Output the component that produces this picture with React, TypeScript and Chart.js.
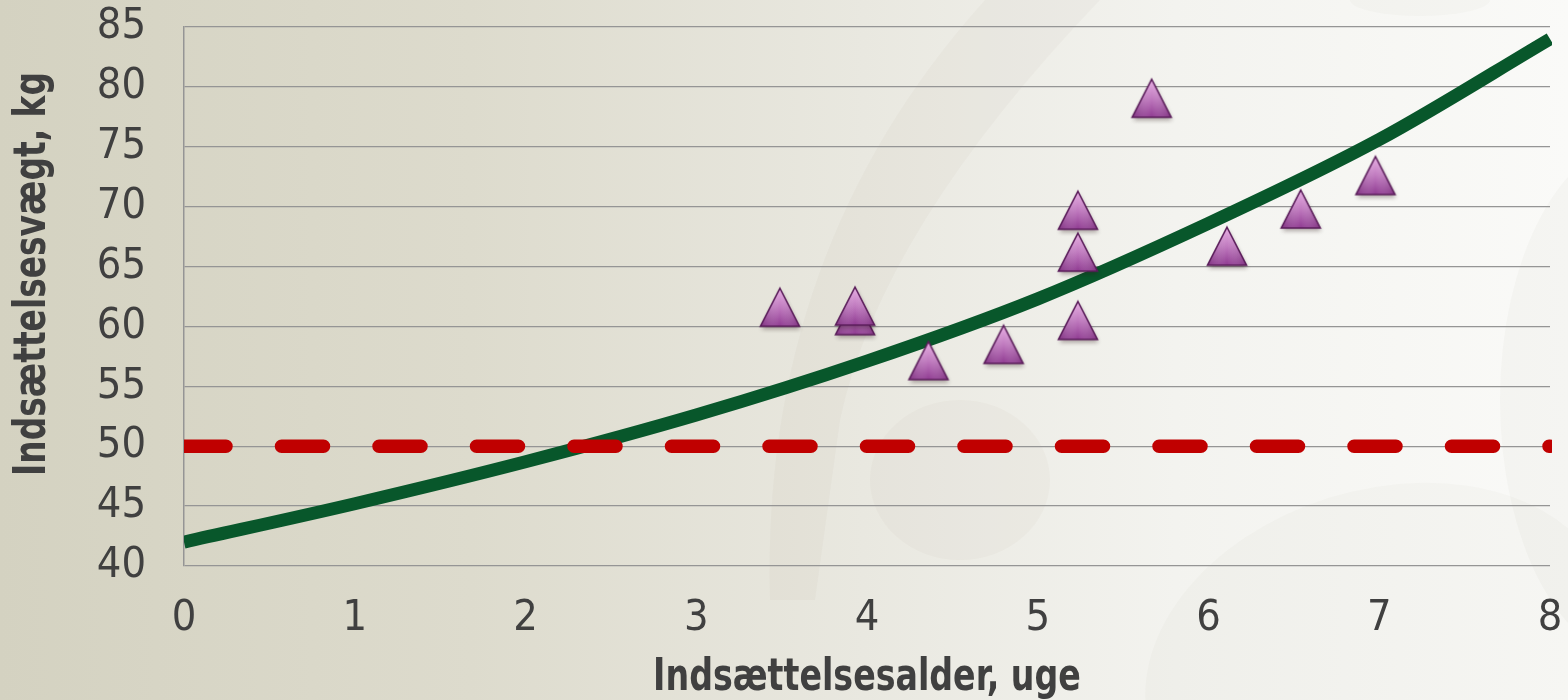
import React, { useEffect, useRef } from "react";
import { Chart, registerables } from "chart.js";

Chart.register(...registerables);

// ---- data ----
const curveAges = [0, 1, 2, 3, 4, 5, 6, 7, 8];
const curveWeights = [42, 45.2, 48.7, 52.6, 57.1, 62.3, 68.6, 75.6, 84];

const limitAges = [0, 8];
const limitWeights = [50, 50];

const obsAges = [3.49, 3.93, 3.93, 4.36, 4.8, 5.235, 5.235, 5.235, 5.667, 6.108, 6.54, 6.978];
const obsWeights = [61.6, 60.9, 61.7, 57.15, 58.5, 60.5, 69.7, 66.2, 79.05, 66.7, 69.8, 72.6];

const xTickValues = [0, 1, 2, 3, 4, 5, 6, 7, 8];
const yTickValues = [40, 45, 50, 55, 60, 65, 70, 75, 80, 85];

const xTitle = "Indsættelsesalder, uge";
const yTitle = "Indsættelsesvægt, kg";

const FONT = '"Liberation Sans Narrow", "Arial Narrow", "DejaVu Sans Condensed", sans-serif';
const TEXT = "#404040";
const GRID = "#959595";

function makeTriangle(): HTMLCanvasElement {
  const c = document.createElement("canvas");
  c.width = 60;
  c.height = 60;
  const g = c.getContext("2d")!;
  const cx = 30, cy = 30, w = 39, h = 38;
  const top = cy - h / 2, bot = cy + h / 2, l = cx - w / 2, r = cx + w / 2;
  const path = () => {
    g.beginPath();
    g.moveTo(cx, top);
    g.lineTo(r, bot);
    g.lineTo(l, bot);
    g.closePath();
  };
  g.save();
  g.shadowColor = "rgba(40,20,20,0.35)";
  g.shadowBlur = 4;
  g.shadowOffsetX = 1;
  g.shadowOffsetY = 3;
  path();
  g.fillStyle = "#8d3e8d";
  g.fill();
  g.restore();
  const lg = g.createLinearGradient(0, top, 0, bot);
  lg.addColorStop(0, "#e8b0e4");
  lg.addColorStop(0.5, "#c07abf");
  lg.addColorStop(1, "#8f3a91");
  path();
  g.fillStyle = lg;
  g.fill();
  const hg = g.createLinearGradient(l, 0, r, 0);
  hg.addColorStop(0, "rgba(95,25,95,0.35)");
  hg.addColorStop(0.5, "rgba(255,255,255,0)");
  hg.addColorStop(1, "rgba(95,25,95,0.35)");
  path();
  g.fillStyle = hg;
  g.fill();
  path();
  g.lineWidth = 1.6;
  g.lineJoin = "miter";
  g.strokeStyle = "#5a1d5a";
  g.stroke();
  return c;
}

const backgroundPlugin = {
  id: "bgDecor",
  beforeDraw(chart: any) {
    const { ctx, width, height } = chart;
    ctx.save();
    const g = ctx.createLinearGradient(0, 0, width, 0);
    g.addColorStop(0, "#d4d2c1");
    g.addColorStop(0.3, "#dddbcd");
    g.addColorStop(0.55, "#e9e8e0");
    g.addColorStop(0.75, "#f3f3ef");
    g.addColorStop(1, "#fafaf8");
    ctx.fillStyle = g;
    ctx.fillRect(0, 0, width, height);

    ctx.fillStyle = "rgba(150,140,110,0.05)";
    // diagonal band
    ctx.beginPath();
    ctx.moveTo(985, 0);
    ctx.lineTo(1100, 0);
    ctx.quadraticCurveTo(880, 230, 840, 420);
    ctx.lineTo(815, 600);
    ctx.lineTo(770, 600);
    ctx.quadraticCurveTo(760, 250, 985, 0);
    ctx.closePath();
    ctx.fill();
    // lobe
    ctx.fillStyle = "rgba(150,140,110,0.04)";
    ctx.beginPath();
    ctx.ellipse(960, 480, 90, 80, 0, 0, Math.PI * 2);
    ctx.fill();
    // right side shapes
    ctx.fillStyle = "rgba(150,140,110,0.045)";
    ctx.beginPath();
    ctx.ellipse(1640, 400, 140, 260, 0, 0, Math.PI * 2);
    ctx.fill();
    ctx.fillStyle = "rgba(150,140,110,0.035)";
    ctx.beginPath();
    ctx.ellipse(1380, 660, 240, 170, -0.3, 0, Math.PI * 2);
    ctx.fill();
    ctx.beginPath();
    ctx.ellipse(1420, 0, 70, 16, 0, 0, Math.PI * 2);
    ctx.fill();
    ctx.restore();
  },
};

const titlesPlugin = {
  id: "axisTitles",
  afterDraw(chart: any) {
    const { ctx, chartArea } = chart;
    ctx.save();
    ctx.fillStyle = TEXT;
    ctx.font = `bold 44px ${FONT}`;
    ctx.textAlign = "center";
    ctx.textBaseline = "alphabetic";
    ctx.save();
    ctx.translate((chartArea.left + chartArea.right) / 2, 690);
    ctx.scale(0.84, 1);
    ctx.fillText(xTitle, 0, 0);
    ctx.restore();
    ctx.translate(45, 274);
    ctx.rotate(-Math.PI / 2);
    ctx.scale(0.83, 1);
    ctx.fillText(yTitle, 0, 0);
    ctx.restore();
  },
};

export default function App() {
  const ref = useRef<HTMLCanvasElement | null>(null);

  useEffect(() => {
    if (!ref.current) return;
    const tri = makeTriangle();
    const clip = { left: 0, right: 2, top: false, bottom: false } as any;
    const chart = new Chart(ref.current, {
      type: "scatter",
      data: {
        datasets: [
          {
            type: "scatter",
            label: "Observationer",
            data: obsAges.map((x, i) => ({ x, y: obsWeights[i] })),
            pointStyle: tri as any,
            pointRadius: 20,
            pointHoverRadius: 20,
            order: 1,
          },
          {
            type: "line",
            label: "Grænse",
            data: limitAges.map((x, i) => ({ x, y: limitWeights[i] })),
            borderColor: "#c00000",
            borderWidth: 13.5,
            borderDash: [42, 55.5],
            borderCapStyle: "round",
            pointRadius: 0,
            fill: false,
            clip,
            order: 2,
          } as any,
          {
            type: "line",
            label: "Kurve",
            data: curveAges.map((x, i) => ({ x, y: curveWeights[i] })),
            borderColor: "#08572b",
            borderWidth: 13,
            cubicInterpolationMode: "monotone",
            pointRadius: 0,
            fill: false,
            clip,
            order: 3,
          } as any,
        ],
      },
      options: {
        animation: false,
        responsive: false,
        events: [],
        layout: { autoPadding: false, padding: { left: 0, right: 18, top: 27, bottom: 0 } },
        plugins: {
          legend: { display: false },
          tooltip: { enabled: false },
          title: { display: false },
        },
        scales: {
          x: {
            type: "linear",
            min: 0,
            max: 8,
            afterFit: (s: any) => {
              s.height = 134;
              s.paddingLeft = 0;
              s.paddingRight = 0;
            },
            afterBuildTicks: (s: any) => {
              s.ticks = xTickValues.map((v) => ({ value: v }));
            },
            grid: { display: false, drawTicks: false },
            border: { display: false },
            ticks: {
              color: TEXT,
              font: { family: FONT, size: 43, lineHeight: 1 },
              padding: 31,
              maxRotation: 0,
            },
          },
          y: {
            type: "linear",
            min: 40,
            max: 85,
            afterFit: (s: any) => {
              s.width = 184;
              s.paddingTop = 0;
              s.paddingBottom = 0;
            },
            afterBuildTicks: (s: any) => {
              s.ticks = yTickValues.map((v) => ({ value: v }));
            },
            grid: { color: GRID, lineWidth: 1.3, drawTicks: false },
            border: { display: true, color: GRID, width: 1.5 },
            ticks: {
              color: TEXT,
              font: { family: FONT, size: 43, lineHeight: 1 },
              padding: 38,
            },
          },
        },
      },
      plugins: [backgroundPlugin, titlesPlugin],
    } as any);
    return () => chart.destroy();
  }, []);

  return (
    <div style={{ position: "fixed", left: 0, top: 0, width: 1568, height: 700 }}>
      <canvas ref={ref} width={1568} height={700} style={{ width: 1568, height: 700, display: "block" }} />
    </div>
  );
}
